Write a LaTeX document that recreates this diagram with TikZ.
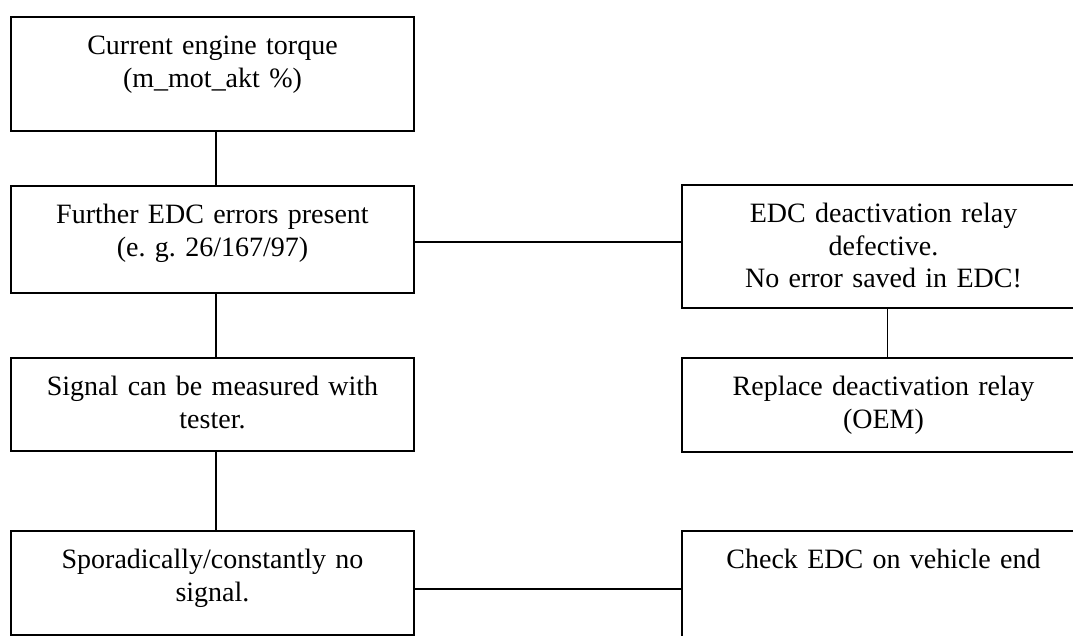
\documentclass[tikz,border=0pt]{standalone}
\usepackage{fontspec}
\setmainfont{Liberation Serif}
\usepackage{tikz}
\usetikzlibrary{positioning}
\tikzset{
  fc diagram/.style={font=\fontsize{14}{16.1}\selectfont\frenchspacing, text=black,
    line cap=rect, line join=miter},
  fc box/.style={draw=black, fill=white, line width=0.9pt, anchor=north,
    text width=193.5pt, inner xsep=4pt, inner ysep=0pt, align=center,
    text height=19pt},
  fc link/.style={draw=black, line width=0.9pt}
}
\begin{document}
\begin{tikzpicture}[fc diagram]
\useasboundingbox (0,0) rectangle (536.5pt,-318pt);
\clip (0,0) rectangle (536.5pt,-318pt);
% left column
\node[fc box,text depth=38pt] (torque) at (106.25pt,-8pt)
  {Current engine torque\\(m\_mot\_akt \%)};
\node[fc box,text depth=34.5pt] (further) at (106.25pt,-92.5pt)
  {Further EDC errors present\\(e. g. 26/167/97)};
\node[fc box,text depth=27.5pt] (signal) at (106.25pt,-178.5pt)
  {Signal can be measured with\\tester.};
\node[fc box,text depth=33pt] (spor) at (106.25pt,-265pt)
  {Sporadically/constantly no\\signal.};
% right column
\node[fc box,text depth=42.5pt] (relay) at (441.75pt,-92pt)
  {EDC deactivation relay\\defective.\\No error saved in EDC!};
\node[fc box,text depth=28pt] (replace) at (441.75pt,-178.5pt)
  {Replace deactivation relay\\(OEM)};
\node[fc box,text depth=50pt] (check) at (441.75pt,-265pt)
  {Check EDC on vehicle end};
% connectors
\draw[fc link] ([xshift=1.75pt]torque.south) -- ([xshift=1.75pt]torque.south |- further.north);
\draw[fc link] ([xshift=1.75pt]further.south) -- ([xshift=1.75pt]further.south |- signal.north);
\draw[fc link] ([xshift=1.75pt]signal.south) -- ([xshift=1.75pt]signal.south |- spor.north);
\draw[fc link] ([yshift=-1.25pt]further.east) -- ([yshift=-1.25pt]further.east -| relay.west);
\draw[fc link] ([xshift=2pt]relay.south) -- ([xshift=2pt]relay.south |- replace.north);
\draw[fc link] ([yshift=-3pt]spor.east) -- ([yshift=-3pt]spor.east -| check.west);
\end{tikzpicture}
\end{document}
